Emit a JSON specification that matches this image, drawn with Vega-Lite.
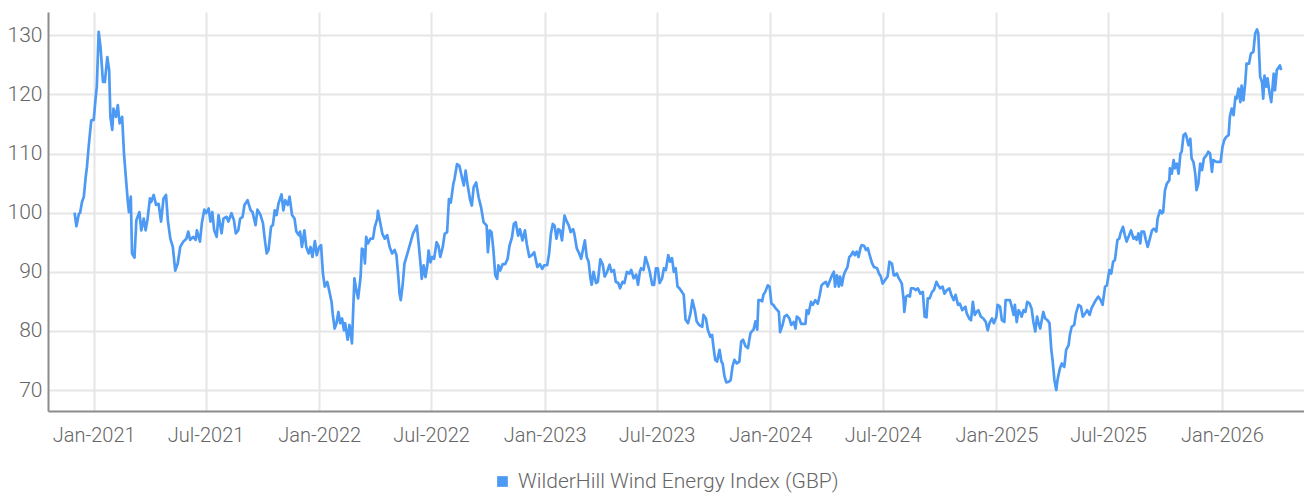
{
"$schema": "https://vega.github.io/schema/vega-lite/v6.json",
"width": 1256, "height": 399,
"autosize": "none",
"padding": {"left": 48, "top": 12, "right": 0, "bottom": 84},
"background": "white",
"config": {"view": {"stroke": null}, "font": "Roboto"},
"data": {"values": [
{"d":"2020-12-01","v":100},{"d":"2020-12-04","v":97.7},{"d":"2020-12-08","v":99.8},{"d":"2020-12-10","v":100},{"d":"2020-12-13","v":101.8},{"d":"2020-12-16","v":102.7},{"d":"2020-12-19","v":106},{"d":"2020-12-21","v":107.7},{"d":"2020-12-24","v":111.4},{"d":"2020-12-28","v":115.6},
{"d":"2021-01-01","v":115.7},{"d":"2021-01-04","v":119.3},{"d":"2021-01-06","v":121.3},{"d":"2021-01-09","v":130.6},{"d":"2021-01-12","v":128},{"d":"2021-01-16","v":122.1},{"d":"2021-01-19","v":122.1},{"d":"2021-01-23","v":126.3},{"d":"2021-01-26","v":124.1},{"d":"2021-01-28","v":116.2},{"d":"2021-01-31","v":114},
{"d":"2021-02-02","v":117.6},{"d":"2021-02-06","v":116.2},{"d":"2021-02-09","v":118.2},{"d":"2021-02-12","v":115.1},{"d":"2021-02-16","v":116.2},{"d":"2021-02-19","v":110},{"d":"2021-02-22","v":106},{"d":"2021-02-25","v":102.1},{"d":"2021-02-27","v":100.1},
{"d":"2021-03-02","v":102.7},{"d":"2021-03-04","v":93.1},{"d":"2021-03-08","v":92.4},{"d":"2021-03-11","v":98.7},{"d":"2021-03-16","v":100.1},{"d":"2021-03-19","v":97},{"d":"2021-03-23","v":99},{"d":"2021-03-26","v":97},{"d":"2021-03-29","v":98.8},
{"d":"2021-04-02","v":102.4},{"d":"2021-04-04","v":101.8},{"d":"2021-04-08","v":103},{"d":"2021-04-12","v":101.3},{"d":"2021-04-16","v":101.5},{"d":"2021-04-20","v":98.5},{"d":"2021-04-24","v":102.4},{"d":"2021-04-28","v":103},
{"d":"2021-05-01","v":98.7},{"d":"2021-05-05","v":95.6},{"d":"2021-05-09","v":94.2},{"d":"2021-05-13","v":90.2},{"d":"2021-05-17","v":91.4},{"d":"2021-05-21","v":94.2},{"d":"2021-05-26","v":95.1},{"d":"2021-05-31","v":95.6},
{"d":"2021-06-03","v":96.8},{"d":"2021-06-06","v":95.4},{"d":"2021-06-11","v":95.9},{"d":"2021-06-15","v":95.4},{"d":"2021-06-17","v":97},{"d":"2021-06-22","v":95.1},{"d":"2021-06-25","v":98.2},{"d":"2021-06-29","v":100.5},
{"d":"2021-07-02","v":99.9},{"d":"2021-07-06","v":100.7},{"d":"2021-07-09","v":98.5},{"d":"2021-07-12","v":100.1},{"d":"2021-07-15","v":97},{"d":"2021-07-19","v":95.9},{"d":"2021-07-22","v":99.6},{"d":"2021-07-27","v":96.5},{"d":"2021-07-30","v":99},
{"d":"2021-08-04","v":99.3},{"d":"2021-08-07","v":98.5},{"d":"2021-08-12","v":99.9},{"d":"2021-08-16","v":98.7},{"d":"2021-08-19","v":96.5},{"d":"2021-08-23","v":97},{"d":"2021-08-26","v":99},{"d":"2021-08-30","v":99.3},
{"d":"2021-09-02","v":101.3},{"d":"2021-09-07","v":102.1},{"d":"2021-09-12","v":100.4},{"d":"2021-09-15","v":100.1},{"d":"2021-09-20","v":97.9},{"d":"2021-09-23","v":100.5},{"d":"2021-09-28","v":99.6},
{"d":"2021-10-02","v":98.2},{"d":"2021-10-05","v":95.4},{"d":"2021-10-08","v":93.1},{"d":"2021-10-11","v":93.7},{"d":"2021-10-15","v":97.6},{"d":"2021-10-18","v":97.9},{"d":"2021-10-21","v":100.4},{"d":"2021-10-24","v":99.6},{"d":"2021-10-27","v":101.5},
{"d":"2021-11-01","v":103.1},{"d":"2021-11-04","v":100.4},{"d":"2021-11-07","v":102.1},{"d":"2021-11-11","v":101.3},{"d":"2021-11-14","v":102.7},{"d":"2021-11-18","v":99.6},{"d":"2021-11-22","v":99},{"d":"2021-11-25","v":96.8},{"d":"2021-11-29","v":96.2},
{"d":"2021-12-01","v":96.8},{"d":"2021-12-04","v":94.2},{"d":"2021-12-08","v":97},{"d":"2021-12-11","v":94.2},{"d":"2021-12-15","v":93.1},{"d":"2021-12-18","v":94.2},{"d":"2021-12-21","v":92.5},{"d":"2021-12-25","v":95.2},{"d":"2021-12-28","v":92.8},
{"d":"2022-01-01","v":94.2},{"d":"2022-01-04","v":94.5},{"d":"2022-01-07","v":89.7},{"d":"2022-01-10","v":87.5},{"d":"2022-01-14","v":88.3},{"d":"2022-01-17","v":86.9},{"d":"2022-01-21","v":84.9},{"d":"2022-01-23","v":82.7},{"d":"2022-01-26","v":80.4},{"d":"2022-01-29","v":81.3},
{"d":"2022-02-01","v":83.2},{"d":"2022-02-04","v":81.3},{"d":"2022-02-07","v":82.1},{"d":"2022-02-10","v":80.1},{"d":"2022-02-12","v":81.3},{"d":"2022-02-16","v":78.5},{"d":"2022-02-19","v":81},{"d":"2022-02-23","v":77.9},{"d":"2022-02-25","v":83.5},{"d":"2022-02-27","v":88.9},
{"d":"2022-03-02","v":86.9},{"d":"2022-03-05","v":85.5},{"d":"2022-03-09","v":89.2},{"d":"2022-03-11","v":93.9},{"d":"2022-03-14","v":93.7},{"d":"2022-03-16","v":91.4},{"d":"2022-03-18","v":95.9},{"d":"2022-03-21","v":94.8},{"d":"2022-03-25","v":95.6},{"d":"2022-03-29","v":95.6},
{"d":"2022-04-01","v":97.6},{"d":"2022-04-05","v":99},{"d":"2022-04-06","v":100.3},{"d":"2022-04-09","v":98.7},{"d":"2022-04-13","v":96.5},{"d":"2022-04-17","v":95.6},{"d":"2022-04-21","v":96.2},{"d":"2022-04-25","v":94.2},{"d":"2022-04-29","v":93.1},
{"d":"2022-05-03","v":93.7},{"d":"2022-05-06","v":92.8},{"d":"2022-05-09","v":89.2},{"d":"2022-05-11","v":86.3},{"d":"2022-05-13","v":85.2},{"d":"2022-05-16","v":87.7},{"d":"2022-05-19","v":91.4},{"d":"2022-05-23","v":92.8},{"d":"2022-05-26","v":93.9},{"d":"2022-05-30","v":95.4},
{"d":"2022-06-02","v":96.5},{"d":"2022-06-06","v":97.3},{"d":"2022-06-08","v":97.8},{"d":"2022-06-11","v":94.7},{"d":"2022-06-14","v":91.3},{"d":"2022-06-16","v":88.8},{"d":"2022-06-19","v":91.1},{"d":"2022-06-22","v":89.1},{"d":"2022-06-25","v":91.1},{"d":"2022-06-27","v":93.6},{"d":"2022-06-30","v":91.6},
{"d":"2022-07-03","v":92.5},{"d":"2022-07-06","v":92.2},{"d":"2022-07-10","v":95},{"d":"2022-07-13","v":94.4},{"d":"2022-07-16","v":92.5},{"d":"2022-07-20","v":94.2},{"d":"2022-07-23","v":96.4},{"d":"2022-07-27","v":96.7},{"d":"2022-07-30","v":102.3},
{"d":"2022-08-02","v":101.7},{"d":"2022-08-06","v":104.8},{"d":"2022-08-08","v":105.7},{"d":"2022-08-12","v":108.2},{"d":"2022-08-16","v":107.9},{"d":"2022-08-20","v":106},{"d":"2022-08-23","v":104.6},{"d":"2022-08-26","v":107.1},{"d":"2022-08-29","v":104.8},
{"d":"2022-09-02","v":102.3},{"d":"2022-09-05","v":101.2},{"d":"2022-09-08","v":104.3},{"d":"2022-09-12","v":105.1},{"d":"2022-09-16","v":102.6},{"d":"2022-09-20","v":100.9},{"d":"2022-09-24","v":98.4},{"d":"2022-09-29","v":97.8},
{"d":"2022-10-01","v":93.3},{"d":"2022-10-04","v":97},{"d":"2022-10-07","v":96.7},{"d":"2022-10-10","v":93.6},{"d":"2022-10-13","v":89.4},{"d":"2022-10-16","v":88.8},{"d":"2022-10-18","v":91.1},{"d":"2022-10-21","v":90.2},{"d":"2022-10-25","v":91.3},{"d":"2022-10-29","v":91.3},
{"d":"2022-11-02","v":92.2},{"d":"2022-11-05","v":94.4},{"d":"2022-11-09","v":95.8},{"d":"2022-11-12","v":98.1},{"d":"2022-11-15","v":98.4},{"d":"2022-11-19","v":96.1},{"d":"2022-11-22","v":97.2},{"d":"2022-11-26","v":95.3},{"d":"2022-11-30","v":97},
{"d":"2022-12-03","v":94.7},{"d":"2022-12-07","v":92.5},{"d":"2022-12-11","v":92.8},{"d":"2022-12-15","v":93.3},{"d":"2022-12-20","v":90.8},{"d":"2022-12-24","v":91.3},{"d":"2022-12-28","v":90.5},{"d":"2022-12-31","v":91.1},
{"d":"2023-01-05","v":91.1},{"d":"2023-01-08","v":93},{"d":"2023-01-11","v":96.4},{"d":"2023-01-14","v":98.1},{"d":"2023-01-17","v":97.8},{"d":"2023-01-20","v":95.6},{"d":"2023-01-23","v":97.2},{"d":"2023-01-26","v":97},{"d":"2023-01-29","v":95.3},
{"d":"2023-02-02","v":99.5},{"d":"2023-02-05","v":98.7},{"d":"2023-02-09","v":97.8},{"d":"2023-02-12","v":96.7},{"d":"2023-02-16","v":97.2},{"d":"2023-02-18","v":96.4},{"d":"2023-02-22","v":93.9},{"d":"2023-02-25","v":93.3},
{"d":"2023-03-01","v":92.2},{"d":"2023-03-04","v":93.8},{"d":"2023-03-07","v":95.3},{"d":"2023-03-10","v":92.5},{"d":"2023-03-13","v":91.7},{"d":"2023-03-16","v":88.9},{"d":"2023-03-18","v":87.8},{"d":"2023-03-21","v":90},{"d":"2023-03-25","v":88.1},{"d":"2023-03-28","v":88.3},
{"d":"2023-04-01","v":92.1},{"d":"2023-04-05","v":91.2},{"d":"2023-04-08","v":89.2},{"d":"2023-04-12","v":90},{"d":"2023-04-16","v":91.2},{"d":"2023-04-19","v":90},{"d":"2023-04-23","v":90.3},{"d":"2023-04-26","v":88.3},{"d":"2023-04-30","v":88.1},
{"d":"2023-05-03","v":87.2},{"d":"2023-05-07","v":88.3},{"d":"2023-05-10","v":88.1},{"d":"2023-05-14","v":90},{"d":"2023-05-18","v":89.7},{"d":"2023-05-21","v":90.3},{"d":"2023-05-25","v":88.9},{"d":"2023-05-29","v":89.5},
{"d":"2023-06-01","v":87.8},{"d":"2023-06-04","v":90},{"d":"2023-06-06","v":90.6},{"d":"2023-06-10","v":90.3},{"d":"2023-06-13","v":92.5},{"d":"2023-06-17","v":91.2},{"d":"2023-06-20","v":90},{"d":"2023-06-24","v":87.8},{"d":"2023-06-27","v":87.8},{"d":"2023-06-30","v":90.6},
{"d":"2023-07-03","v":90.6},{"d":"2023-07-06","v":88.1},{"d":"2023-07-10","v":88.9},{"d":"2023-07-13","v":90.6},{"d":"2023-07-16","v":90.3},{"d":"2023-07-20","v":92.8},{"d":"2023-07-23","v":91.7},{"d":"2023-07-26","v":92.3},{"d":"2023-07-29","v":90},
{"d":"2023-08-01","v":90.6},{"d":"2023-08-04","v":87.5},{"d":"2023-08-07","v":87.2},{"d":"2023-08-11","v":86.6},{"d":"2023-08-14","v":86.1},{"d":"2023-08-17","v":81.9},{"d":"2023-08-21","v":81.3},{"d":"2023-08-25","v":83},{"d":"2023-08-28","v":85.2},
{"d":"2023-09-01","v":83.5},{"d":"2023-09-04","v":81.6},{"d":"2023-09-08","v":81},{"d":"2023-09-13","v":80.7},{"d":"2023-09-15","v":82.7},{"d":"2023-09-19","v":82.1},{"d":"2023-09-22","v":80.2},{"d":"2023-09-26","v":79},{"d":"2023-09-29","v":79.3},
{"d":"2023-10-01","v":77.4},{"d":"2023-10-04","v":75.1},{"d":"2023-10-07","v":74.8},{"d":"2023-10-11","v":76.8},{"d":"2023-10-14","v":74.8},{"d":"2023-10-16","v":74.5},{"d":"2023-10-19","v":72.3},{"d":"2023-10-22","v":71.3},{"d":"2023-10-26","v":71.4},{"d":"2023-10-29","v":71.7},
{"d":"2023-11-01","v":74},{"d":"2023-11-04","v":75.1},{"d":"2023-11-08","v":74.5},{"d":"2023-11-12","v":74.8},{"d":"2023-11-15","v":78.2},{"d":"2023-11-18","v":78.5},{"d":"2023-11-22","v":77.4},{"d":"2023-11-26","v":77.1},{"d":"2023-11-30","v":79.6},
{"d":"2023-12-02","v":79.9},{"d":"2023-12-05","v":80.2},{"d":"2023-12-08","v":81.6},{"d":"2023-12-11","v":80.2},{"d":"2023-12-13","v":85.2},{"d":"2023-12-16","v":85.2},{"d":"2023-12-19","v":85},{"d":"2023-12-21","v":86.1},{"d":"2023-12-24","v":86.6},{"d":"2023-12-28","v":87.7},{"d":"2023-12-31","v":87.5},
{"d":"2024-01-03","v":84.6},{"d":"2024-01-06","v":84.4},{"d":"2024-01-10","v":83.8},{"d":"2024-01-15","v":83.2},{"d":"2024-01-17","v":79.8},{"d":"2024-01-21","v":81},{"d":"2024-01-24","v":82.4},{"d":"2024-01-28","v":82.7},
{"d":"2024-02-01","v":82.1},{"d":"2024-02-04","v":81},{"d":"2024-02-08","v":81.5},{"d":"2024-02-11","v":80.4},{"d":"2024-02-13","v":82.4},{"d":"2024-02-17","v":82.1},{"d":"2024-02-20","v":81.2},{"d":"2024-02-23","v":81.2},{"d":"2024-02-27","v":81.2},{"d":"2024-02-29","v":83.5},
{"d":"2024-03-03","v":82.9},{"d":"2024-03-07","v":84.9},{"d":"2024-03-10","v":84.4},{"d":"2024-03-14","v":85.2},{"d":"2024-03-18","v":84.6},{"d":"2024-03-21","v":86},{"d":"2024-03-24","v":87.7},{"d":"2024-03-27","v":88},{"d":"2024-03-31","v":88.3},
{"d":"2024-04-03","v":87.5},{"d":"2024-04-07","v":88.6},{"d":"2024-04-10","v":89.4},{"d":"2024-04-13","v":90},{"d":"2024-04-15","v":87.5},{"d":"2024-04-18","v":89.4},{"d":"2024-04-21","v":87.5},{"d":"2024-04-23","v":89.2},{"d":"2024-04-26","v":87.7},{"d":"2024-04-29","v":89.4},
{"d":"2024-05-01","v":90},{"d":"2024-05-05","v":90.8},{"d":"2024-05-08","v":92.5},{"d":"2024-05-11","v":92.8},{"d":"2024-05-14","v":93.4},{"d":"2024-05-17","v":92.8},{"d":"2024-05-20","v":93.4},{"d":"2024-05-23","v":92.5},{"d":"2024-05-26","v":94},{"d":"2024-05-28","v":94.5},
{"d":"2024-06-01","v":94.4},{"d":"2024-06-04","v":93.7},{"d":"2024-06-07","v":94},{"d":"2024-06-10","v":92.8},{"d":"2024-06-14","v":91.4},{"d":"2024-06-17","v":90.8},{"d":"2024-06-22","v":90.6},{"d":"2024-06-25","v":89.7},{"d":"2024-06-28","v":89.2},
{"d":"2024-07-01","v":88},{"d":"2024-07-05","v":88.6},{"d":"2024-07-09","v":89.2},{"d":"2024-07-12","v":91.7},{"d":"2024-07-16","v":91.4},{"d":"2024-07-19","v":89.4},{"d":"2024-07-21","v":89.4},{"d":"2024-07-24","v":89.7},{"d":"2024-07-27","v":88.9},{"d":"2024-07-29","v":88.6},
{"d":"2024-08-01","v":88},{"d":"2024-08-04","v":85.2},{"d":"2024-08-05","v":83.2},{"d":"2024-08-08","v":85.8},{"d":"2024-08-11","v":86},{"d":"2024-08-14","v":85.8},{"d":"2024-08-16","v":87.2},{"d":"2024-08-20","v":87.2},{"d":"2024-08-24","v":86.9},{"d":"2024-08-27","v":87.2},{"d":"2024-08-31","v":86.3},
{"d":"2024-09-04","v":86.6},{"d":"2024-09-07","v":82.4},{"d":"2024-09-10","v":82.3},{"d":"2024-09-12","v":85.5},{"d":"2024-09-15","v":85.5},{"d":"2024-09-19","v":86.6},{"d":"2024-09-22","v":86.9},{"d":"2024-09-26","v":88.3},{"d":"2024-09-29","v":87.7},
{"d":"2024-10-02","v":87.2},{"d":"2024-10-06","v":87.5},{"d":"2024-10-09","v":86.3},{"d":"2024-10-13","v":86.9},{"d":"2024-10-17","v":87.2},{"d":"2024-10-20","v":86.1},{"d":"2024-10-24","v":85.2},{"d":"2024-10-27","v":86.1},{"d":"2024-10-31","v":84.4},
{"d":"2024-11-03","v":84.6},{"d":"2024-11-07","v":83.5},{"d":"2024-11-12","v":84.1},{"d":"2024-11-14","v":83},{"d":"2024-11-18","v":82.1},{"d":"2024-11-21","v":81.8},{"d":"2024-11-24","v":84.9},{"d":"2024-11-27","v":82.7},{"d":"2024-11-30","v":83.2},
{"d":"2024-12-03","v":83.5},{"d":"2024-12-07","v":82.4},{"d":"2024-12-11","v":82.1},{"d":"2024-12-15","v":81.5},{"d":"2024-12-18","v":80.1},{"d":"2024-12-21","v":81.3},{"d":"2024-12-25","v":82.1},{"d":"2024-12-28","v":81.3},
{"d":"2025-01-01","v":82.4},{"d":"2025-01-03","v":84.4},{"d":"2025-01-07","v":84.1},{"d":"2025-01-10","v":81.8},{"d":"2025-01-14","v":81.5},{"d":"2025-01-16","v":85.2},{"d":"2025-01-20","v":85.2},{"d":"2025-01-23","v":85.2},{"d":"2025-01-26","v":84.1},{"d":"2025-01-29","v":82.7},{"d":"2025-01-31","v":84.4},
{"d":"2025-02-03","v":81.5},{"d":"2025-02-06","v":83.5},{"d":"2025-02-09","v":83},{"d":"2025-02-11","v":82.4},{"d":"2025-02-14","v":83.5},{"d":"2025-02-17","v":83.2},{"d":"2025-02-20","v":84.9},{"d":"2025-02-24","v":84.6},{"d":"2025-02-27","v":83.8},
{"d":"2025-03-02","v":81.5},{"d":"2025-03-05","v":79.9},{"d":"2025-03-08","v":82.4},{"d":"2025-03-10","v":81.5},{"d":"2025-03-13","v":80.4},{"d":"2025-03-16","v":82.1},{"d":"2025-03-18","v":83.2},{"d":"2025-03-21","v":82.1},{"d":"2025-03-25","v":81.8},{"d":"2025-03-28","v":81.3},{"d":"2025-03-31","v":76.8},
{"d":"2025-04-02","v":75.1},{"d":"2025-04-05","v":71.7},{"d":"2025-04-08","v":70},{"d":"2025-04-10","v":71.7},{"d":"2025-04-14","v":73.7},{"d":"2025-04-17","v":74.5},{"d":"2025-04-21","v":73.9},{"d":"2025-04-24","v":76.8},{"d":"2025-04-28","v":77.6},{"d":"2025-04-30","v":79.3},
{"d":"2025-05-03","v":80.7},{"d":"2025-05-07","v":81},{"d":"2025-05-10","v":83},{"d":"2025-05-14","v":84.4},{"d":"2025-05-18","v":84.1},{"d":"2025-05-21","v":82.4},{"d":"2025-05-25","v":83},{"d":"2025-05-28","v":83.5},
{"d":"2025-06-01","v":82.7},{"d":"2025-06-04","v":83.8},{"d":"2025-06-08","v":84.6},{"d":"2025-06-11","v":85.2},{"d":"2025-06-15","v":85.8},{"d":"2025-06-19","v":85.2},{"d":"2025-06-22","v":84.4},{"d":"2025-06-26","v":87.5},{"d":"2025-06-29","v":87.7},
{"d":"2025-07-03","v":90.3},{"d":"2025-07-06","v":89.7},{"d":"2025-07-09","v":91.7},{"d":"2025-07-12","v":92},{"d":"2025-07-16","v":95.4},{"d":"2025-07-19","v":95.6},{"d":"2025-07-21","v":96.5},{"d":"2025-07-25","v":97.6},{"d":"2025-07-28","v":96.2},{"d":"2025-07-31","v":95.1},
{"d":"2025-08-04","v":96.2},{"d":"2025-08-07","v":97},{"d":"2025-08-11","v":95.6},{"d":"2025-08-14","v":95.9},{"d":"2025-08-16","v":95.4},{"d":"2025-08-19","v":96.5},{"d":"2025-08-22","v":94.8},{"d":"2025-08-24","v":96.8},{"d":"2025-08-28","v":96.8},{"d":"2025-08-31","v":95.4},
{"d":"2025-09-03","v":94.2},{"d":"2025-09-06","v":95.4},{"d":"2025-09-10","v":97},{"d":"2025-09-13","v":97.3},{"d":"2025-09-17","v":96.8},{"d":"2025-09-19","v":99},{"d":"2025-09-23","v":100.4},{"d":"2025-09-26","v":99.9},{"d":"2025-09-28","v":100.1},
{"d":"2025-10-01","v":103.8},{"d":"2025-10-04","v":104.9},{"d":"2025-10-08","v":105.5},{"d":"2025-10-09","v":107.5},{"d":"2025-10-12","v":106.6},{"d":"2025-10-15","v":108.9},{"d":"2025-10-17","v":107.5},{"d":"2025-10-20","v":108.3},{"d":"2025-10-23","v":106.6},{"d":"2025-10-26","v":110},{"d":"2025-10-28","v":110.3},{"d":"2025-10-31","v":113.1},
{"d":"2025-11-03","v":113.4},{"d":"2025-11-05","v":112.8},{"d":"2025-11-08","v":111.4},{"d":"2025-11-11","v":112.5},{"d":"2025-11-13","v":109.2},{"d":"2025-11-16","v":108.6},{"d":"2025-11-19","v":106.6},{"d":"2025-11-21","v":103.8},{"d":"2025-11-24","v":104.9},{"d":"2025-11-27","v":108.3},{"d":"2025-11-30","v":107.2},
{"d":"2025-12-03","v":109.2},{"d":"2025-12-07","v":109.7},{"d":"2025-12-10","v":110.3},{"d":"2025-12-13","v":110},{"d":"2025-12-16","v":106.9},{"d":"2025-12-18","v":108.9},{"d":"2025-12-23","v":108.6},{"d":"2025-12-27","v":108.6},{"d":"2025-12-30","v":108.6},
{"d":"2026-01-02","v":111.1},{"d":"2026-01-05","v":112.3},{"d":"2026-01-08","v":112.8},{"d":"2026-01-12","v":113.1},{"d":"2026-01-14","v":116.2},{"d":"2026-01-17","v":117.6},{"d":"2026-01-20","v":116.5},{"d":"2026-01-23","v":119.6},{"d":"2026-01-25","v":119.3},{"d":"2026-01-28","v":121},{"d":"2026-01-31","v":118.7},
{"d":"2026-02-02","v":121.5},{"d":"2026-02-05","v":119},{"d":"2026-02-08","v":122.1},{"d":"2026-02-10","v":125.2},{"d":"2026-02-14","v":125.2},{"d":"2026-02-17","v":126.9},{"d":"2026-02-21","v":127.2},{"d":"2026-02-24","v":130.3},{"d":"2026-02-27","v":131},
{"d":"2026-03-01","v":130.3},{"d":"2026-03-04","v":123},{"d":"2026-03-07","v":122.1},{"d":"2026-03-09","v":119.3},{"d":"2026-03-11","v":123.2},{"d":"2026-03-14","v":121.3},{"d":"2026-03-16","v":122.7},{"d":"2026-03-19","v":120.4},{"d":"2026-03-22","v":118.7},{"d":"2026-03-26","v":123.5},{"d":"2026-03-28","v":120.7},{"d":"2026-03-31","v":124.1},
{"d":"2026-04-03","v":124.6},{"d":"2026-04-05","v":124.9},{"d":"2026-04-07","v":124.1}
]},
"mark": {"type": "line", "strokeWidth": 2.7, "interpolate": "linear", "strokeJoin": "round", "clip": true},
"encoding": {
  "x": {"field": "d", "type": "temporal",
    "scale": {"type": "utc", "domain": [{"year": 2020, "month": 10, "date": 19, "utc": true}, {"year": 2026, "month": 5, "date": 14, "utc": true}]},
    "axis": {"title": null, "format": "%b-%Y", "values": [
      {"year": 2021, "month": 1, "date": 1, "utc": true}, {"year": 2021, "month": 7, "date": 1, "utc": true},
      {"year": 2022, "month": 1, "date": 1, "utc": true}, {"year": 2022, "month": 7, "date": 1, "utc": true},
      {"year": 2023, "month": 1, "date": 1, "utc": true}, {"year": 2023, "month": 7, "date": 1, "utc": true},
      {"year": 2024, "month": 1, "date": 1, "utc": true}, {"year": 2024, "month": 7, "date": 1, "utc": true},
      {"year": 2025, "month": 1, "date": 1, "utc": true}, {"year": 2025, "month": 7, "date": 1, "utc": true},
      {"year": 2026, "month": 1, "date": 1, "utc": true}],
      "grid": true, "gridColor": "#e6e6e6", "gridWidth": 2, "ticks": false,
      "domainColor": "#8c8c8c", "domainWidth": 2, "labelPadding": 14,
      "labelFont": "Roboto", "labelFontWeight": 300, "labelFontSize": 20, "labelColor": "#666666",
      "labelOverlap": false, "labelFlush": false}},
  "y": {"field": "v", "type": "quantitative",
    "scale": {"domain": [66.45, 133.94], "nice": false, "zero": false},
    "axis": {"title": null, "values": [70, 80, 90, 100, 110, 120, 130],
      "grid": true, "gridColor": "#e6e6e6", "gridWidth": 2, "ticks": false,
      "domainColor": "#8c8c8c", "domainWidth": 2, "labelPadding": 6,
      "labelFont": "Roboto", "labelFontWeight": 300, "labelFontSize": 21, "labelColor": "#666666"}},
  "color": {"datum": "WilderHill Wind Energy Index (GBP)", "type": "nominal",
    "scale": {"range": ["#4d9af5"]},
    "legend": {"title": null, "orient": "none", "legendX": 444, "legendY": 459, "symbolType": "square", "symbolSize": 115,
      "symbolFillColor": "#4d9af5", "symbolStrokeWidth": 0, "labelOffset": 5, "labelLimit": 600,
      "labelFont": "Roboto", "labelFontWeight": 300, "labelFontSize": 21, "labelColor": "#666666"}}
}
}
